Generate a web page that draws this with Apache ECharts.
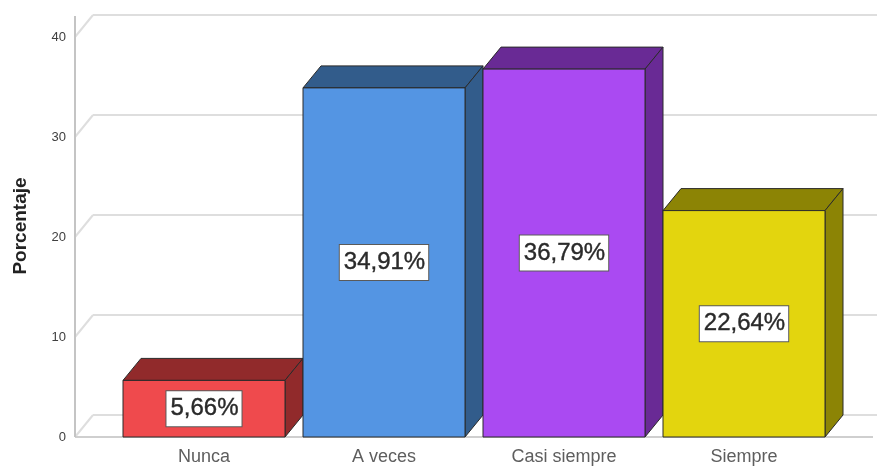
<!DOCTYPE html>
<html>
<head>
<meta charset="utf-8">
<script src="https://cdn.jsdelivr.net/npm/echarts@6/dist/echarts.min.js"></script>
<style>
  html, body { margin: 0; padding: 0; background: #ffffff; }
  #chart { width: 877px; height: 469px; }
</style>
</head>
<body>
<div id="chart"></div>
<script>
// Frecuencia de respuesta (porcentaje)
const categories = ['Nunca', 'A veces', 'Casi siempre', 'Siempre'];
const percentages = [5.66, 34.91, 36.79, 22.64];
const yTickValues = [0, 10, 20, 30, 40];

// Face colours: front face and shaded top/side faces
const frontColors = ['#ef4a4d', '#5495e3', '#aa4af2', '#e3d50e'];
const shadeColors = ['#912a2b', '#325c8b', '#692a95', '#8c8405'];

const FONT = "'Liberation Sans', Arial, sans-serif";
const DEPTH_X = 18;   // 3D depth offset, pixels
const DEPTH_Y = 22;

function formatPct(v) {
  return v.toFixed(2).replace('.', ',') + '%';
}

const chart = echarts.init(document.getElementById('chart'), null, { renderer: 'canvas' });

// Back walls, floor and gridlines of the 3D frame
function renderFrame(params, api) {
  const band = api.size([1, 0])[0];
  const firstX = api.coord([0, 0])[0] - band / 2;
  const lastX = api.coord([categories.length - 1, 0])[0] + band / 2;
  const wallX = firstX - 39;
  const rightX = lastX + 39;
  const children = [];
  const gridStyle = { stroke: '#dedede', lineWidth: 2, fill: null };
  yTickValues.forEach(function (v) {
    const fy = api.coord([0, v])[1];
    children.push({
      type: 'line',
      shape: { x1: wallX, y1: fy, x2: wallX + DEPTH_X, y2: fy - DEPTH_Y },
      style: gridStyle
    });
    children.push({
      type: 'line',
      shape: { x1: wallX + DEPTH_X, y1: fy - DEPTH_Y, x2: api.getWidth(), y2: fy - DEPTH_Y },
      style: gridStyle
    });
  });
  const y0 = api.coord([0, 0])[1];
  const yTop = api.coord([0, yTickValues[yTickValues.length - 1]])[1] - DEPTH_Y;
  children.push({
    type: 'line',
    shape: { x1: wallX, y1: y0, x2: rightX, y2: y0 },
    style: { stroke: '#cfcfcf', lineWidth: 2 }
  });
  children.push({
    type: 'line',
    shape: { x1: wallX, y1: y0, x2: wallX, y2: yTop + 1 },
    style: { stroke: '#c4c4c4', lineWidth: 2 }
  });
  return { type: 'group', children: children };
}

// 3D bar: front rectangle, top face, side face and value box
function renderBar(params, api) {
  const idx = api.value(0);
  const val = api.value(1);
  const band = api.size([1, 0])[0];
  const w = band * 0.9;
  const center = api.coord([idx, 0]);
  const topPt = api.coord([idx, val]);
  const x0 = center[0] - w / 2;
  const x1 = center[0] + w / 2;
  const yb = center[1];
  const yt = topPt[1];
  const edge = { stroke: '#2a2a2a', lineWidth: 1, lineJoin: 'round' };
  return {
    type: 'group',
    children: [
      {
        type: 'polygon',
        shape: { points: [[x0, yt], [x0 + DEPTH_X, yt - DEPTH_Y], [x1 + DEPTH_X, yt - DEPTH_Y], [x1, yt]] },
        style: Object.assign({ fill: shadeColors[idx] }, edge)
      },
      {
        type: 'polygon',
        shape: { points: [[x1, yt], [x1 + DEPTH_X, yt - DEPTH_Y], [x1 + DEPTH_X, yb - DEPTH_Y], [x1, yb]] },
        style: Object.assign({ fill: shadeColors[idx] }, edge)
      },
      {
        type: 'rect',
        shape: { x: x0, y: yt, width: x1 - x0, height: yb - yt },
        style: Object.assign({ fill: frontColors[idx] }, edge)
      },
      {
        type: 'text',
        x: center[0],
        y: (yt + yb) / 2,
        style: {
          text: formatPct(val),
          align: 'center',
          verticalAlign: 'middle',
          fontFamily: FONT,
          fontSize: 24,
          lineHeight: 28,
          fill: '#2a2a2a',
          stroke: '#2a2a2a',
          lineWidth: 0.4,
          backgroundColor: '#ffffff',
          borderColor: '#5a5a5a',
          borderWidth: 1,
          padding: [4, 3, 3, 4]
        }
      }
    ]
  };
}

const option = {
  backgroundColor: '#ffffff',
  animation: false,
  grid: { left: 114, right: 43, top: 37, bottom: 32 },
  xAxis: {
    type: 'category',
    data: categories,
    axisLine: { show: false },
    axisTick: { show: false },
    splitLine: { show: false },
    axisLabel: { color: '#5e5e5e', fontFamily: FONT, fontSize: 18, margin: 11 }
  },
  yAxis: {
    type: 'value',
    min: 0,
    max: 40,
    interval: 10,
    name: 'Porcentaje',
    nameLocation: 'middle',
    nameGap: 84,
    nameRotate: 90,
    nameTextStyle: { color: '#222222', fontFamily: FONT, fontSize: 19, fontWeight: 'bold', padding: [0, 0, 0, 22] },
    axisLine: { show: false },
    axisTick: { show: false },
    splitLine: { show: false },
    axisLabel: { color: '#404040', fontFamily: FONT, fontSize: 13, margin: 48 }
  },
  series: [
    {
      type: 'custom',
      renderItem: renderFrame,
      data: [[0, 0]],
      encode: { x: 0, y: 1 },
      silent: true,
      z: 1
    },
    {
      type: 'custom',
      renderItem: renderBar,
      data: percentages.map(function (v, i) { return [i, v]; }),
      encode: { x: 0, y: 1 },
      z: 2
    }
  ]
};

chart.setOption(option);
</script>
</body>
</html>
